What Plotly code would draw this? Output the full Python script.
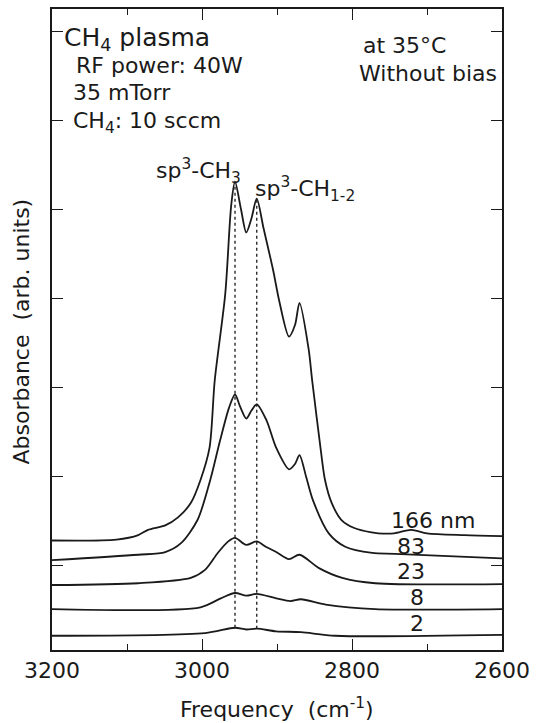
import plotly.graph_objects as go

# ---------------- data ----------------
freq_166 = [3200, 3114, 3085, 3072, 3049, 3032, 3015, 3002, 2990, 2983, 2969, 2961, 2956, 2948, 2941,
            2934, 2927, 2918, 2905, 2897, 2884, 2876, 2870, 2858, 2853, 2842, 2836, 2827, 2814, 2797,
            2774, 2765, 2744, 2721, 2700, 2650, 2600]
abs_166 = [1.28, 1.29, 1.34, 1.40, 1.45, 1.54, 1.70, 1.96, 2.32, 3.08, 4.05, 5.05, 5.31, 5.00, 4.74,
           4.90, 5.12, 4.79, 4.31, 3.97, 3.57, 3.70, 3.95, 3.44, 3.07, 2.32, 1.96, 1.70, 1.51, 1.42,
           1.37, 1.36, 1.36, 1.40, 1.36, 1.34, 1.33]

freq_83 = [3200, 3085, 3049, 3028, 3006, 2989, 2976, 2964, 2956, 2949, 2941, 2934, 2927, 2914, 2901,
           2884, 2876, 2870, 2861, 2852, 2831, 2809, 2773, 2743, 2600]
abs_83 = [1.06, 1.12, 1.15, 1.25, 1.51, 1.96, 2.40, 2.77, 2.92, 2.78, 2.65, 2.74, 2.81, 2.63, 2.32,
          2.08, 2.14, 2.24, 1.99, 1.73, 1.36, 1.21, 1.14, 1.13, 1.08]

freq_23 = [3200, 3085, 3015, 2996, 2979, 2965, 2956, 2941, 2927, 2915, 2901, 2884, 2870, 2844, 2813, 2769, 2600]
abs_23 = [0.78, 0.80, 0.86, 0.95, 1.14, 1.27, 1.31, 1.23, 1.27, 1.21, 1.15, 1.07, 1.12, 0.97, 0.86, 0.80, 0.79]

freq_8 = [3200, 3002, 2975, 2956, 2941, 2927, 2901, 2882, 2868, 2835, 2769, 2600]
abs_8 = [0.51, 0.53, 0.63, 0.69, 0.66, 0.68, 0.63, 0.60, 0.62, 0.56, 0.51, 0.51]

freq_2 = [3200, 2996, 2956, 2941, 2927, 2901, 2868, 2822, 2600]
abs_2 = [0.21, 0.24, 0.30, 0.28, 0.29, 0.26, 0.25, 0.21, 0.22]

thickness_labels = ["166 nm", "83", "23", "8", "2"]
peak_freqs = [2956, 2927]
peak_names = ["sp<sup>3</sup>-CH<sub>3</sub>", "sp<sup>3</sup>-CH<sub>1-2</sub>"]
x_tick_vals = [3200, 3000, 2800, 2600]
x_tick_text = ["3200", "3000", "2800", "2600"]

# ---------------- figure ----------------
FONT = "DejaVu Sans, Liberation Sans, Arial, sans-serif"
LINE = "#1a1a1a"

fig = go.Figure()
for f, a in [(freq_166, abs_166), (freq_83, abs_83), (freq_23, abs_23), (freq_8, abs_8), (freq_2, abs_2)]:
    fig.add_trace(go.Scatter(x=f, y=a, mode="lines",
                             line=dict(color=LINE, width=1.8, shape="spline", smoothing=0.8),
                             showlegend=False, hoverinfo="skip"))

# dotted guide lines from bottom spectrum up to top spectrum peaks
for pf in peak_freqs:
    top = abs_166[freq_166.index(pf)]
    bot = abs_2[freq_2.index(pf)]
    fig.add_trace(go.Scatter(x=[pf, pf], y=[bot, top], mode="lines",
                             line=dict(color=LINE, width=1.3, dash="dot"),
                             showlegend=False, hoverinfo="skip"))

L, R, T, B = 52, 27, 7, 73
W, H = 537, 723
PW, PH = W - L - R, H - T - B


def px(x):
    return (x - L) / PW


def py(y):
    return (T + PH - y) / PH


ann = []


def add_text(text, x, y, size=22, xanchor="left"):
    ann.append(dict(text=text, x=px(x), y=py(y), xref="paper", yref="paper",
                    xanchor=xanchor, yanchor="middle", showarrow=False,
                    font=dict(family=FONT, size=size, color=LINE)))


add_text("CH<sub>4</sub> plasma", 62, 37, size=25)
add_text("RF power: 40W", 74, 64)
add_text("35 mTorr", 71, 91)
add_text("CH<sub>4</sub>: 10 sccm", 71, 121)
add_text("at 35°C", 366, 44)
add_text("Without bias", 362, 72)
add_text(peak_names[0], 156, 170)
add_text(peak_names[1], 257, 188)

label_pos = [(395, 520, "left"), (417, 546, "center"), (417, 571, "center"),
             (423, 597, "center"), (423, 623, "center")]
for lab, (lx, ly, anc) in zip(thickness_labels, label_pos):
    add_text(lab, lx, ly, xanchor=anc)

# axis titles
ann.append(dict(text="Frequency  (cm<sup>-1</sup>)", x=px(281), y=(723 - 708 - B) / PH,
                xref="paper", yref="paper", xanchor="center", yanchor="middle",
                showarrow=False, font=dict(family=FONT, size=22, color=LINE)))
ann.append(dict(text="Absorbance  (arb. units)", x=(21 - L) / PW, y=py(331),
                xref="paper", yref="paper", xanchor="center", yanchor="middle",
                textangle=-90, showarrow=False, font=dict(family=FONT, size=22, color=LINE)))

fig.update_layout(
    width=W, height=H,
    margin=dict(l=L, r=R, t=T, b=B, pad=0),
    paper_bgcolor="white", plot_bgcolor="white",
    annotations=ann,
    xaxis=dict(range=[3200, 2600], tickvals=x_tick_vals, ticktext=x_tick_text,
               ticks="inside", ticklen=11, tickwidth=1.3, tickcolor=LINE,
               minor=dict(dtick=100, tick0=3200, ticks="inside", ticklen=6, tickwidth=1.3, tickcolor=LINE),
               showline=True, linecolor=LINE, linewidth=1.5, mirror="ticks",
               showgrid=False, zeroline=False, ticklabeloverflow="allow",
               tickfont=dict(family=FONT, size=22, color=LINE)),
    yaxis=dict(range=[0.05, 7.25], tickvals=[1, 2, 3, 4, 5, 6, 7], showticklabels=False,
               ticks="inside", ticklen=11, tickwidth=1.3, tickcolor=LINE,
               showline=True, linecolor=LINE, linewidth=1.5, mirror="ticks",
               showgrid=False, zeroline=False),
)

fig.write_html("out.html", config={"displayModeBar": False},
               post_script="document.body.style.margin='0';document.body.style.padding='0';")
